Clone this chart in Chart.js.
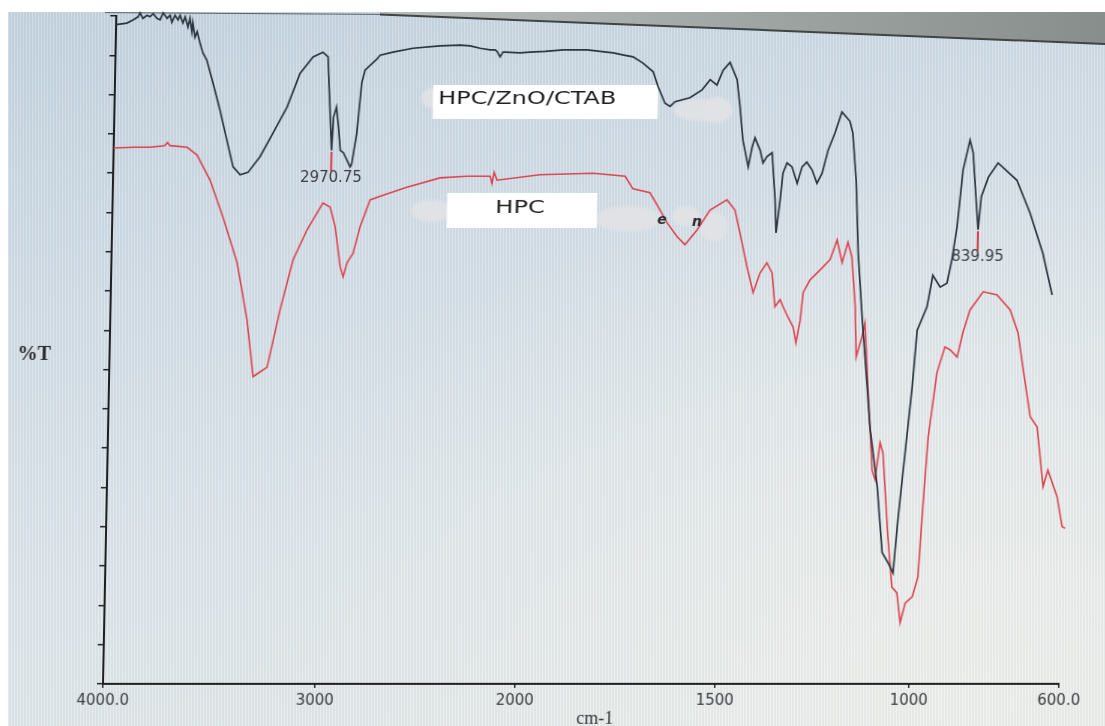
<!DOCTYPE html>
<html>
<head>
<meta charset="utf-8">
<title>FTIR spectra – HPC and HPC/ZnO/CTAB</title>
<script src="https://cdn.jsdelivr.net/npm/chart.js@4.4.1/dist/chart.umd.min.js"></script>
<style>
  html, body { margin: 0; padding: 0; background: #ffffff; }
  #stage { position: relative; width: 1105px; height: 726px; overflow: hidden; background: #ffffff; }
  #screen {
    position: absolute; left: 8px; top: 12px; right: 0; bottom: 0;
    background:
      repeating-linear-gradient(90deg, rgba(255,255,255,0.20) 0px, rgba(255,255,255,0.20) 1px, rgba(110,125,140,0.05) 1px, rgba(110,125,140,0.05) 3px),
      radial-gradient(ellipse at 88% 96%, rgba(238,240,236,0.95) 0%, rgba(238,240,236,0) 55%),
      linear-gradient(168deg, #c3d3df 0%, #d2dde6 32%, #dde5ea 62%, #e5e9e8 100%);
  }
  #bezel { position: absolute; left: 0; top: 0; }
  #plot {
    position: absolute; left: 0; top: 0;
    transform-origin: 0 684px;
    transform: skewX(-1.14deg);
    filter: blur(0.3px);
  }
</style>
</head>
<body>
<div id="stage">
  <div id="screen"></div>
  <svg id="bezel" width="1105" height="60" viewBox="0 0 1105 60">
    <defs>
      <linearGradient id="bz" x1="0" y1="0" x2="1" y2="0">
        <stop offset="0" stop-color="#b9bebc"/>
        <stop offset="1" stop-color="#878e8b"/>
      </linearGradient>
    </defs>
    <polygon points="380,12 1105,12 1105,44 380,14.5" fill="url(#bz)"/>
    <line x1="105" y1="12.6" x2="380" y2="14.4" stroke="#5d6362" stroke-width="1"/>
    <line x1="380" y1="14.4" x2="1105" y2="44" stroke="#3e4544" stroke-width="2"/>
  </svg>
  <canvas id="plot" width="1105" height="726"></canvas>
</div>
<script>
// Spectrum of the HPC/ZnO/CTAB composite (wavenumber in cm-1, transmittance in %T units)
const wavenumberComposite = [
  4000, 3949, 3921, 3897, 3888, 3874, 3855, 3841, 3826, 3808, 3793, 3779, 3760, 3746, 3737, 3723,
  3708, 3699, 3685, 3675, 3661, 3652, 3642, 3638, 3627, 3617, 3603, 3588,
  3569, 3538, 3502, 3467, 3435, 3401, 3364, 3309, 3250, 3186, 3128, 3068, 3022,
  2997, 2990, 2980, 2970.75, 2964, 2950, 2938, 2927, 2911, 2876, 2869, 2846, 2826, 2811,
  2753, 2737, 2673, 2573, 2438, 2338, 2288, 2238, 2188, 2163, 2153, 2137, 2123, 2113, 2038,
  1994, 1956, 1911, 1851, 1819, 1786, 1756, 1736, 1711,
  1685, 1672, 1654, 1641, 1629, 1592, 1562, 1542, 1525, 1510, 1493, 1474, 1465, 1456,
  1441, 1432, 1425, 1411, 1403, 1393, 1380, 1377, 1370, 1366, 1357, 1351, 1341, 1328,
  1314, 1302, 1290, 1276, 1263, 1250, 1236, 1219, 1202, 1181, 1173, 1162, 1153, 1139,
  1123, 1114, 1092, 1076, 1060, 1047, 1037, 1022, 1007, 997, 972, 958, 938, 920, 908,
  896, 883, 866, 857, 846, 839.95, 833, 815, 790, 739, 702, 666, 639
];
const transmittanceComposite = [
  83.9, 84.1, 84.5, 84.9, 85.4, 84.7, 85.1, 84.9, 85.3, 84.7, 84.5, 85.4, 84.7, 85.1, 84.2, 85.1,
  84.5, 85.1, 84.1, 84.9, 83.6, 84.7, 83.0, 84.1, 82.3, 83.0, 81.6, 80.3,
  79.4, 76.5, 73.0, 69.2, 65.8, 64.8, 65.1, 67.1, 70.1, 73.4, 77.7, 79.8, 80.4,
  79.8, 76.5, 72.1, 67.9, 72.1, 73.4, 70.9, 67.9, 67.6, 65.8, 66.1, 70.1, 76.5, 78.1,
  79.5, 80.0, 80.4, 80.9, 81.2, 81.3, 81.2, 80.9, 80.7, 80.7, 80.5, 79.8, 80.4, 80.4, 80.3,
  80.4, 80.5, 80.7, 80.7, 80.5, 80.3, 80.0, 79.8, 79.0,
  77.9, 76.0, 73.9, 73.5, 74.1, 74.6, 75.6, 76.9, 76.2, 78.1, 79.1, 76.9, 73.4, 69.2,
  65.8, 68.3, 69.5, 67.9, 66.3, 67.1, 67.6, 65.8, 61.6, 57.4, 61.6, 65.0, 66.3, 65.8,
  63.7, 65.8, 66.4, 65.4, 63.7, 65.0, 67.9, 70.1, 72.8, 71.6, 70.1, 64.1, 54.8, 46.3,
  37.8, 32.7, 25.1, 16.7, 15.4, 14.1, 20.9, 29.4, 37.8, 45.0, 48.0, 52.0, 50.5, 51.0, 54.0,
  58.2, 65.4, 69.2, 67.6, 61.2, 57.8, 62.0, 64.5, 66.3, 64.1, 59.9, 54.8, 49.5
];

// Spectrum of pure HPC
const wavenumberHpc = [
  4000, 3900, 3829, 3760, 3746, 3735, 3654, 3606, 3542, 3478, 3407, 3355, 3321, 3289, 3256, 3200, 3143, 3080,
  3008, 2972, 2945, 2916, 2900, 2882, 2853, 2820, 2773, 2708, 2590, 2425, 2290, 2175, 2165,
  2155, 2140, 1963, 1830, 1750, 1730, 1687, 1661, 1643, 1617, 1597, 1567, 1536, 1494, 1473,
  1459, 1439, 1422, 1405, 1388, 1374, 1365, 1352, 1344, 1331, 1317, 1309, 1299, 1293, 1276,
  1250, 1225, 1208, 1194, 1180, 1169, 1158, 1153, 1139, 1132, 1121, 1106, 1098, 1087, 1079,
  1062, 1049, 1036, 1026, 1014, 996, 982, 972, 962, 942, 922, 908, 889, 875, 857, 823, 786,
  750, 728, 712, 691, 672, 653, 641, 615, 600, 592
];
const transmittanceHpc = [
  68.2, 68.3, 68.3, 68.5, 68.9, 68.5, 68.3, 67.3, 64.1, 59.4, 53.6, 46.3, 39.1, 39.7, 40.3, 47.6, 54.0, 57.8,
  61.2, 60.7, 58.2, 53.1, 51.8, 53.6, 54.8, 58.2, 61.6, 62.2, 63.2, 64.4, 64.6, 64.6, 63.7,
  65.1, 64.1, 64.8, 65.0, 64.6, 63.0, 62.5, 60.3, 58.7, 56.9, 55.9, 57.8, 60.3, 61.6, 60.3,
  57.4, 53.1, 49.8, 52.3, 53.6, 52.3, 48.0, 48.9, 48.0, 46.7, 45.4, 43.4, 46.3, 49.8, 51.4,
  52.7, 54.0, 56.5, 53.6, 56.2, 54.3, 48.0, 41.6, 44.2, 45.9, 37.8, 27.2, 26.0, 30.7, 29.4,
  18.7, 12.3, 11.6, 7.8, 10.3, 11.1, 13.6, 23.0, 31.4, 39.6, 42.9, 42.5, 41.6, 44.7, 47.6, 49.9, 49.5,
  47.6, 44.7, 40.0, 34.0, 32.7, 25.1, 27.2, 23.8, 20.0, 19.8
];

const seriesNames = ['HPC/ZnO/CTAB', 'HPC'];
const xTickValues = [4000, 3000, 2000, 1500, 1000, 600];
const xTickLabels = ['4000.0', '3000', '2000', '1500', '1000', '600.0'];
const peakWavenumbers = [2970.75, 839.95];
const peakLabels = ['2970.75', '839.95'];

// The spectrometer draws 4000-2000 cm-1 at roughly half the density of 2000-600 cm-1.
// Each stop is [wavenumber, fraction of the axis length measured from 600].
const AXIS_STOPS = [[600, 0], [1000, 0.1569], [1500, 0.3598], [2000, 0.5690], [3000, 0.7782], [4000, 1]];

class WavenumberScale extends Chart.LinearScale {
  toFraction(v) {
    const s = AXIS_STOPS;
    let i = 1;
    while (i < s.length - 1 && v > s[i][0]) i++;
    const [v0, f0] = s[i - 1], [v1, f1] = s[i];
    return f0 + (v - v0) * (f1 - f0) / (v1 - v0);
  }
  fromFraction(f) {
    const s = AXIS_STOPS;
    let i = 1;
    while (i < s.length - 1 && f > s[i][1]) i++;
    const [v0, f0] = s[i - 1], [v1, f1] = s[i];
    return v0 + (f - f0) * (v1 - v0) / (f1 - f0);
  }
  getPixelForValue(value) {
    return value === null || value === undefined ? NaN : this.getPixelForDecimal(this.toFraction(value));
  }
  getValueForPixel(pixel) {
    return this.fromFraction(this.getDecimalForPixel(pixel));
  }
}
WavenumberScale.id = 'wavenumber';
WavenumberScale.defaults = Chart.LinearScale.defaults;
Chart.register(WavenumberScale);

// Smudges, label boxes, peak markers and free text drawn on the plot
const decor = {
  id: 'decor',
  beforeDatasetsDraw(chart) {
    const c = chart.ctx;
    c.save();
    c.filter = 'blur(1.6px)';
    c.fillStyle = 'rgba(224,226,229,0.96)';
    const blobs = [
      [420.5, 98, 11, 10], [691.5, 110, 30, 11], [706.5, 110, 14, 13],
      [421.7, 211, 20, 11], [618.7, 219, 33, 13], [676.7, 216, 14, 10], [704.9, 227, 14, 15]
    ];
    blobs.forEach(([x, y, rx, ry]) => {
      c.beginPath(); c.ellipse(x, y, rx, ry, 0, 0, Math.PI * 2); c.fill();
    });
    c.filter = 'none';
    c.fillStyle = '#ffffff';
    c.fillRect(421.4, 85, 225, 34);
    c.fillRect(437.6, 193, 150, 35);
    c.fillStyle = '#1d1d1f';
    c.textBaseline = 'middle';
    c.font = '17px "DejaVu Sans"';
    c.save(); c.translate(426.4, 100); c.scale(1.41, 1); c.textAlign = 'left';
    c.fillText(seriesNames[0], 0, 0); c.restore();
    c.save(); c.translate(510.6, 208.5); c.scale(1.42, 1); c.textAlign = 'center';
    c.fillText(seriesNames[1], 0, 0); c.restore();
    c.restore();
  },
  afterDatasetsDraw(chart) {
    const c = chart.ctx, xs = chart.scales.x, ys = chart.scales.y;
    c.save();
    peakWavenumbers.forEach((w, k) => {
      const idx = wavenumberComposite.indexOf(w);
      const px = xs.getPixelForValue(w);
      const py = ys.getPixelForValue(transmittanceComposite[idx]);
      c.strokeStyle = '#d9404c'; c.lineWidth = 2;
      c.beginPath(); c.moveTo(px, py + 1.5); c.lineTo(px, py + 21); c.stroke();
      c.fillStyle = '#3a3e43';
      c.font = '15px "DejaVu Sans"';
      c.textAlign = 'center'; c.textBaseline = 'top';
      c.fillText(peakLabels[k], px, py + 20);
    });
    c.fillStyle = '#2a2a2c';
    c.font = 'italic bold 14px "DejaVu Sans"';
    c.textAlign = 'center'; c.textBaseline = 'middle';
    c.fillText('e', 652.8, 220);
    c.fillText('n', 687.8, 222);
    c.restore();
  },
  afterDraw(chart) {
    const c = chart.ctx;
    c.save();
    c.fillStyle = '#2b2b2d';
    c.font = 'bold 20px "Liberation Serif"';
    c.textAlign = 'left'; c.textBaseline = 'middle';
    c.fillText('%T', 11, 355);
    c.fillStyle = '#333336';
    c.font = '18px "Liberation Serif"';
    c.textBaseline = 'alphabetic';
    c.fillText('cm-1', 577, 724);
    c.restore();
  }
};

const toPoints = (xs, ys) => xs.map((x, i) => ({ x, y: ys[i] }));

new Chart(document.getElementById('plot').getContext('2d'), {
  type: 'line',
  data: {
    datasets: [
      {
        label: seriesNames[0],
        data: toPoints(wavenumberComposite, transmittanceComposite),
        borderColor: '#2b3640', borderWidth: 1.7,
        pointRadius: 0, tension: 0, clip: false
      },
      {
        label: seriesNames[1],
        data: toPoints(wavenumberHpc, transmittanceHpc),
        borderColor: '#dc4652', borderWidth: 1.6,
        pointRadius: 0, tension: 0, clip: false
      }
    ]
  },
  options: {
    responsive: false,
    animation: false,
    devicePixelRatio: 1,
    layout: { padding: { left: 95, right: 46, top: 16, bottom: 0 } },
    plugins: { legend: { display: false }, tooltip: { enabled: false } },
    scales: {
      x: {
        type: 'wavenumber', min: 600, max: 4000, reverse: true,
        afterBuildTicks: (s) => { s.ticks = xTickValues.map(v => ({ value: v })); },
        afterFit: (s) => { s.height = 42; },
        grid: { drawOnChartArea: false, drawTicks: true, tickLength: 4, color: '#2a2a2a', lineWidth: 1.5 },
        border: { display: true, color: '#1e1f20', width: 2 },
        ticks: {
          autoSkip: false, maxRotation: 0, minRotation: 0, padding: 4,
          color: '#3a3d41', font: { family: 'DejaVu Sans', size: 15 },
          callback: (value, index) => xTickLabels[index]
        }
      },
      y: {
        min: 0, max: 85,
        afterFit: (s) => { s.width = 8; },
        grid: { drawOnChartArea: false, drawTicks: true, tickLength: 6, color: '#222324', lineWidth: 1.5 },
        border: { display: true, color: '#1e1f20', width: 2 },
        ticks: { stepSize: 5, display: false }
      }
    }
  },
  plugins: [decor]
});
</script>
</body>
</html>
